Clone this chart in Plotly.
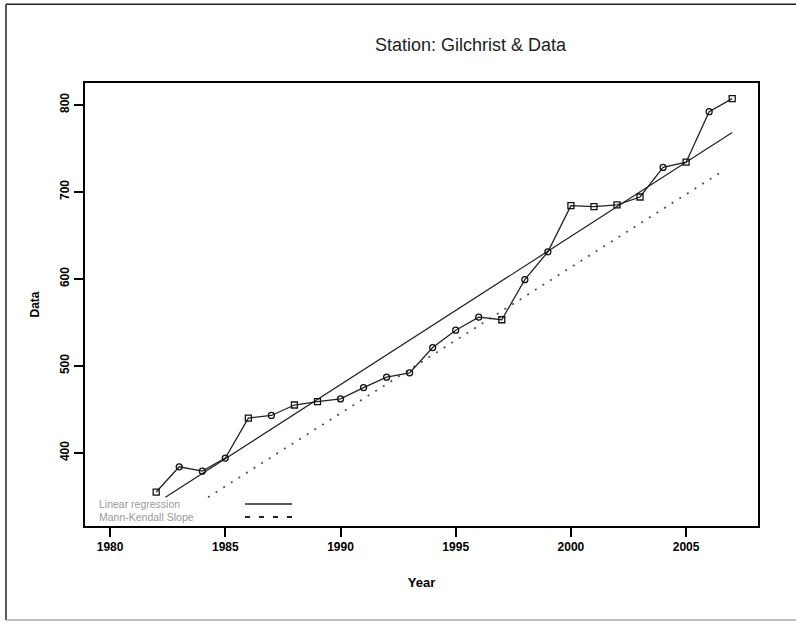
import plotly.graph_objects as go

# ---- data ----
years = list(range(1982, 2008))
values = [355, 384, 379, 394, 440, 443, 455, 459, 462, 475, 487, 492, 521,
          541, 556, 553, 599, 631, 684, 683, 685, 694, 728, 734, 792, 807]
marker_symbols = ["square-open", "circle-open", "circle-open", "circle-open",
                  "square-open", "circle-open", "square-open", "square-open",
                  "circle-open", "circle-open", "circle-open", "circle-open",
                  "circle-open", "circle-open", "circle-open", "square-open",
                  "circle-open", "circle-open", "square-open", "square-open",
                  "square-open", "square-open", "circle-open", "square-open",
                  "circle-open", "square-open"]

reg_years = [1982.4, 2007.0]
reg_values = [349, 768]
mk_years = [1984.25, 2006.6]
mk_values = [349, 724]

x_ticks = [1980, 1985, 1990, 1995, 2000, 2005]
y_ticks = [400, 500, 600, 700, 800]

tick_font = dict(family="Liberation Sans, Arial", size=12, color="black", weight="bold")

fig = go.Figure()
fig.add_trace(go.Scatter(x=reg_years, y=reg_values, mode="lines",
                         line=dict(color="#222", width=1.2), showlegend=False))
fig.add_trace(go.Scatter(x=mk_years, y=mk_values, mode="lines",
                         line=dict(color="#555", width=1.8, dash="2px,7px"), showlegend=False))
fig.add_trace(go.Scatter(x=years, y=values, mode="lines+markers",
                         line=dict(color="#222", width=1.3),
                         marker=dict(symbol=marker_symbols, size=6, color="#111",
                                     line=dict(width=1.3, color="#111")),
                         showlegend=False))

fig.update_layout(
    width=796, height=622,
    margin=dict(l=85, r=38, t=83, b=96, pad=0),
    paper_bgcolor="white", plot_bgcolor="white",
    showlegend=False,
    xaxis=dict(range=[1978.91, 2008.12], tickvals=x_ticks, ticktext=[str(t) for t in x_ticks],
               ticks="outside", ticklen=9, tickwidth=1.5, tickcolor="black",
               showline=True, linecolor="black", linewidth=2, mirror=True,
               showgrid=False, zeroline=False, tickfont=tick_font,
               title=dict(text="Year", font=dict(family="Liberation Sans, Arial", size=13,
                                                  color="black", weight="bold"), standoff=24)),
    yaxis=dict(range=[316, 825], tickvals=y_ticks, ticktext=[str(t) for t in y_ticks],
               ticks="outside", ticklen=9, tickwidth=1.5, tickcolor="black",
               showline=True, linecolor="black", linewidth=2, mirror=True,
               showgrid=False, zeroline=False, tickfont=tick_font, tickangle=-90,
               title=dict(text="Data", font=dict(family="Liberation Sans, Arial", size=12,
                                                  color="black", weight="bold"), standoff=16)),
)

# title
fig.add_annotation(text="Station: Gilchrist & Data", xref="paper", yref="paper",
                   x=0.5736, y=1.086, showarrow=False, xanchor="center", yanchor="middle",
                   font=dict(family="Liberation Sans, Arial", size=18, color="#222"))

# legend (text left, sample line right)
legend_items = [("Linear regression", "solid", 0.0497), ("Mann-Kendall Slope", "5px,9px", 0.0203)]
for label, dash, yy in legend_items:
    fig.add_annotation(text=label, xref="paper", yref="paper", x=0.0178, y=yy,
                       showarrow=False, xanchor="left", yanchor="middle",
                       font=dict(family="Liberation Sans, Arial", size=10.5, color="#999"))
    fig.add_shape(type="line", xref="paper", yref="paper", x0=0.2377, x1=0.3076,
                  y0=yy, y1=yy, line=dict(color="#222", width=1.5 if dash == "solid" else 2,
                                          dash=dash))

# outer border (left, top, bottom)
fig.add_shape(type="line", xref="paper", yref="paper", x0=-0.1174, x1=-0.1174,
              y0=-0.212, y1=1.178, line=dict(color="#222", width=1.5))
fig.add_shape(type="line", xref="paper", yref="paper", x0=-0.1174, x1=1.06,
              y0=1.178, y1=1.178, line=dict(color="#222", width=1.5))
fig.add_shape(type="line", xref="paper", yref="paper", x0=-0.1174, x1=1.06,
              y0=-0.212, y1=-0.212, line=dict(color="#aaa", width=1.5))

fig.write_html("out.html", config={"displayModeBar": False},
               post_script="document.body.style.margin='0px';")
